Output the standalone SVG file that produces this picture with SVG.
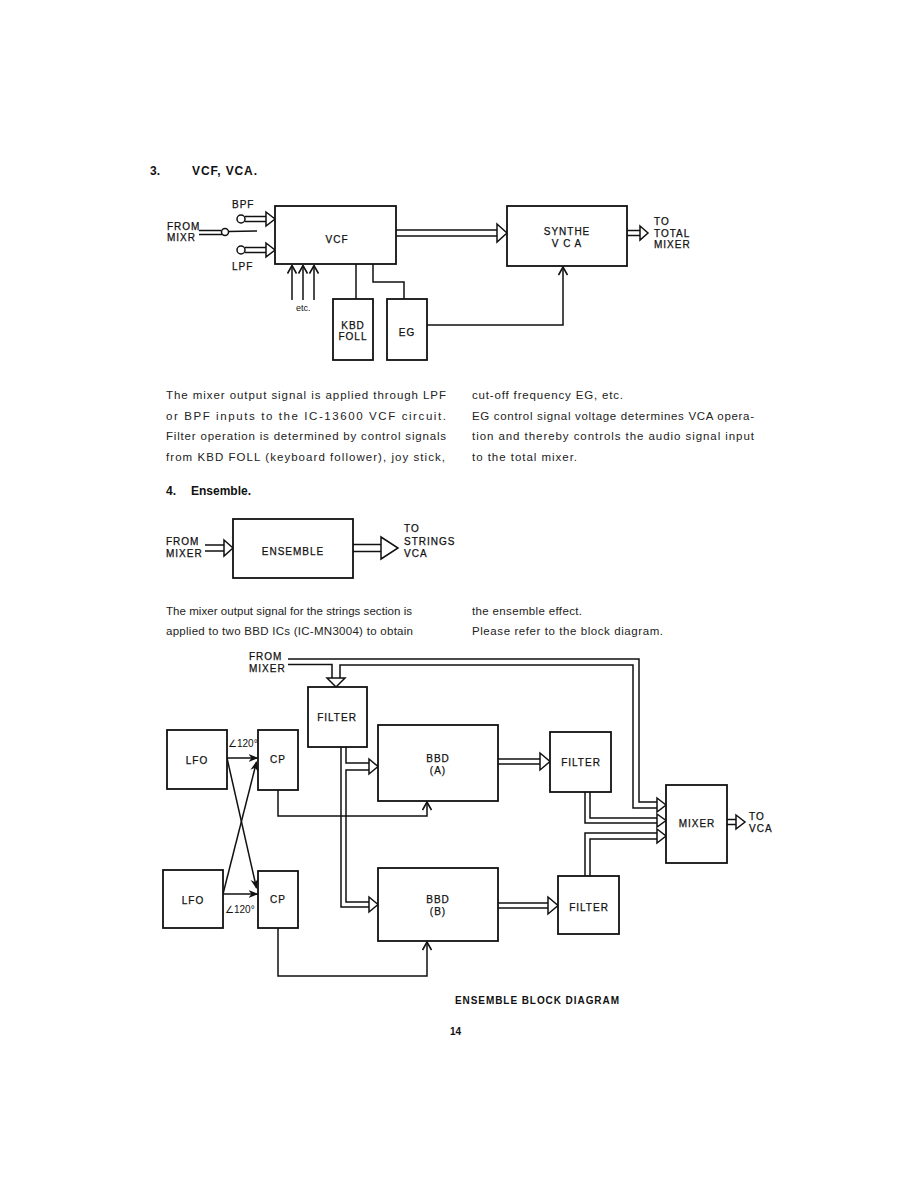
<svg xmlns="http://www.w3.org/2000/svg" width="918" height="1188" viewBox="0 0 918 1188">
<defs>
<style>
.bx{fill:#fff;stroke:#111;stroke-width:1.8}
.ln{fill:none;stroke:#111;stroke-width:1.5}
.dh{fill:#fff;stroke:#111;stroke-width:1.5;stroke-linejoin:miter}
.lb{font-family:"Liberation Sans",Arial,sans-serif;font-size:10px;letter-spacing:1px;fill:#111;stroke:#111;stroke-width:0.25}
.c{text-anchor:middle}
.tx{font-family:"Liberation Sans",Arial,sans-serif;font-size:11.5px;fill:#222}
.hd{font-family:"Liberation Sans",Arial,sans-serif;font-size:12px;font-weight:bold;fill:#111}
.bd{font-family:"Liberation Sans",Arial,sans-serif;font-size:10px;font-weight:bold;fill:#111}
</style>
<marker id="chev" viewBox="0 0 10 10" refX="9" refY="5" markerWidth="10" markerHeight="10" markerUnits="userSpaceOnUse" orient="auto">
<path d="M1,0.5 L9,5 L1,9.5" fill="none" stroke="#111" stroke-width="1.6"/>
</marker>
<marker id="fa" viewBox="0 0 10 10" refX="9" refY="5" markerWidth="10" markerHeight="10" markerUnits="userSpaceOnUse" orient="auto">
<path d="M0,1 L10,5 L0,9 L3,5 Z" fill="#111"/>
</marker>
</defs>
<rect width="918" height="1188" fill="#fff"/>

<!-- Section 3 heading -->
<text class="hd" x="150" y="175">3.</text>
<text class="hd" x="192" y="175" font-size="12.5" textLength="65">VCF, VCA.</text>

<!-- VCF diagram connectors -->
<g id="vcf-connectors">
<text class="lb" x="167" y="230" letter-spacing="0.5">FROM</text>
<text class="lb" x="167" y="241" letter-spacing="0.5">MIXR</text>
<path class="ln" d="M199,230.5 H221"/>
<path class="ln" d="M199,234.5 H222"/>
<circle cx="225" cy="232" r="3.5" fill="#fff" stroke="#111" stroke-width="1.5"/>
<path class="ln" d="M228.5,231.5 L257,231"/>
<text class="lb" x="232" y="208" letter-spacing="0.5">BPF</text>
<circle cx="241" cy="219" r="4" fill="#fff" stroke="#111" stroke-width="1.5"/>
<path class="ln" d="M245,216.5 H267 M245,221.5 H267"/>
<polygon class="dh" points="266,212 275,219 266,226"/>
<text class="lb" x="232" y="270" letter-spacing="0.5">LPF</text>
<circle cx="241" cy="250" r="4" fill="#fff" stroke="#111" stroke-width="1.5"/>
<path class="ln" d="M245,247.5 H267 M245,252.5 H267"/>
<polygon class="dh" points="266,243 275,250 266,257"/>
<path class="ln" d="M292,300 V265.5" marker-end="url(#chev)"/>
<path class="ln" d="M303,300 V265.5" marker-end="url(#chev)"/>
<path class="ln" d="M314,300 V265.5" marker-end="url(#chev)"/>
<text x="296" y="311" font-family="Liberation Sans, Arial, sans-serif" font-size="9" fill="#111">etc.</text>
<path class="ln" d="M356,264 V299"/>
<path class="ln" d="M373,264 V282 H404 V299"/>
<path class="ln" d="M427,325 H563 V267" marker-end="url(#chev)"/>
<path class="ln" d="M396,230 H498 M396,236 H498"/>
<polygon class="dh" points="497,224 507,233 497,242"/>
<path class="ln" d="M627,230.5 H641 M627,235.5 H641"/>
<polygon class="dh" points="640,226 648,233 640,240"/>
<text class="lb" x="654" y="225">TO</text>
<text class="lb" x="654" y="237">TOTAL</text>
<text class="lb" x="654" y="248">MIXER</text>
</g>

<g id="vcf"><rect class="bx" x="275" y="206" width="121" height="58"/><text class="lb c" x="337" y="243">VCF</text></g>
<g id="synthe-vca"><rect class="bx" x="507" y="206" width="120" height="60"/><text class="lb c" x="567" y="235">SYNTHE</text><text class="lb c" x="567" y="247" letter-spacing="3">V C A</text></g>
<g id="kbd-foll"><rect class="bx" x="333" y="299" width="40" height="61"/><text class="lb c" x="353" y="329">KBD</text><text class="lb c" x="353" y="340">FOLL</text></g>
<g id="eg"><rect class="bx" x="387" y="299" width="40" height="61"/><text class="lb c" x="407" y="336">EG</text></g>

<!-- Paragraph 1 -->
<text class="tx" x="166" y="399" textLength="280" lengthAdjust="spacing">The mixer output signal is applied through LPF</text>
<text class="tx" x="166" y="420" textLength="280" lengthAdjust="spacing">or BPF inputs to the IC-13600 VCF circuit.</text>
<text class="tx" x="166" y="440" textLength="280" lengthAdjust="spacing">Filter operation is determined by control signals</text>
<text class="tx" x="166" y="461" textLength="279" lengthAdjust="spacing">from KBD FOLL (keyboard follower), joy stick,</text>
<text class="tx" x="472" y="399" textLength="151" lengthAdjust="spacing">cut-off frequency EG, etc.</text>
<text class="tx" x="472" y="420" textLength="282" lengthAdjust="spacing">EG control signal voltage determines VCA opera-</text>
<text class="tx" x="472" y="440" textLength="282" lengthAdjust="spacing">tion and thereby controls the audio signal input</text>
<text class="tx" x="472" y="461" textLength="105" lengthAdjust="spacing">to the total mixer.</text>

<!-- Section 4 heading -->
<text class="hd" x="166" y="495">4.</text>
<text class="hd" x="191" y="495" font-size="10.5">Ensemble.</text>

<!-- Ensemble small diagram -->
<g id="ensemble-connectors">
<text class="lb" x="166" y="545" letter-spacing="0.5">FROM</text>
<text class="lb" x="166" y="557" letter-spacing="0.5">MIXER</text>
<path class="ln" d="M205,545 H225 M205,551 H225"/>
<polygon class="dh" points="224,540 233,548 224,556"/>
<path class="ln" d="M353,544.5 H382 M353,551.5 H382"/>
<polygon class="dh" points="381,537 398,548 381,559"/>
<text class="lb" x="404" y="532">TO</text>
<text class="lb" x="404" y="545">STRINGS</text>
<text class="lb" x="404" y="557">VCA</text>
</g>
<g id="ensemble"><rect class="bx" x="233" y="519" width="120" height="59"/><text class="lb c" x="293" y="555">ENSEMBLE</text></g>

<!-- Paragraph 2 -->
<text class="tx" x="166" y="615" textLength="246" lengthAdjust="spacing">The mixer output signal for the strings section is</text>
<text class="tx" x="166" y="635" textLength="247" lengthAdjust="spacing">applied to two BBD ICs (IC-MN3004) to obtain</text>
<text class="tx" x="472" y="615" textLength="110" lengthAdjust="spacing">the ensemble effect.</text>
<text class="tx" x="472" y="635" textLength="191" lengthAdjust="spacing">Please refer to the block diagram.</text>

<!-- Ensemble block diagram connectors -->
<g id="block-connectors">
<text class="lb" x="249" y="660" letter-spacing="0.5">FROM</text>
<text class="lb" x="249" y="672" letter-spacing="0.5">MIXER</text>
<path class="ln" d="M288,659 H639 V802 H658"/>
<path class="ln" d="M288,664.5 H332 V679"/>
<path class="ln" d="M340,679 V665 H633 V808 H658"/>
<polygon class="dh" points="327,678 345,678 336,687"/>
<path class="ln" d="M346,747 V763 H370"/>
<path class="ln" d="M370,770 H346 V902 H370"/>
<path class="ln" d="M341,747 V907 H370"/>
<polygon class="dh" points="369,759 378,766.5 369,774"/>
<polygon class="dh" points="369,897 378,904.5 369,912"/>
<path class="ln" d="M498,759 H541 M498,764 H541"/>
<polygon class="dh" points="540,753 550,761.5 540,770"/>
<path class="ln" d="M498,903 H549 M498,908 H549"/>
<polygon class="dh" points="548,897 558,905.5 548,914"/>
<path class="ln" d="M590,792 V818 H658"/>
<path class="ln" d="M585,792 V823 H658"/>
<path class="ln" d="M585,876 V833 H658"/>
<path class="ln" d="M590,876 V839 H658"/>
<polygon class="dh" points="657,798 666,805 657,812"/>
<polygon class="dh" points="657,814 666,820.5 657,827"/>
<polygon class="dh" points="657,829 666,836 657,843"/>
<path class="ln" d="M727,819.5 H737 M727,824.5 H737"/>
<polygon class="dh" points="736,815 745,822 736,829"/>
<text class="lb" x="749" y="820">TO</text>
<text class="lb" x="749" y="832">VCA</text>
<path class="ln" d="M227,758 H257.5" marker-end="url(#fa)"/>
<path class="ln" d="M227,758 L256.5,888" marker-end="url(#fa)"/>
<path class="ln" d="M223,894 H257.5" marker-end="url(#fa)"/>
<path class="ln" d="M223,894 L256.5,762" marker-end="url(#fa)"/>
<text x="228" y="747" font-family="Liberation Sans, Arial, sans-serif" font-size="10" fill="#111">∠120°</text>
<text x="225" y="913" font-family="Liberation Sans, Arial, sans-serif" font-size="10" fill="#111">∠120°</text>
<path class="ln" d="M278,790 V816 H427 V802" marker-end="url(#chev)"/>
<path class="ln" d="M278,928 V976 H427 V942" marker-end="url(#chev)"/>
</g>

<g id="filter-in"><rect class="bx" x="308" y="687" width="59" height="60"/><text class="lb c" x="337" y="721">FILTER</text></g>
<g id="lfo-1"><rect class="bx" x="167" y="730" width="60" height="59"/><text class="lb c" x="197" y="764">LFO</text></g>
<g id="cp-1"><rect class="bx" x="258" y="730" width="40" height="60"/><text class="lb c" x="278" y="763">CP</text></g>
<g id="bbd-a"><rect class="bx" x="378" y="725" width="120" height="76"/><text class="lb c" x="438" y="762">BBD</text><text class="lb c" x="438" y="774">(A)</text></g>
<g id="filter-a"><rect class="bx" x="550" y="732" width="61" height="60"/><text class="lb c" x="581" y="766">FILTER</text></g>
<g id="lfo-2"><rect class="bx" x="163" y="870" width="60" height="58"/><text class="lb c" x="193" y="904">LFO</text></g>
<g id="cp-2"><rect class="bx" x="258" y="871" width="40" height="57"/><text class="lb c" x="278" y="903">CP</text></g>
<g id="bbd-b"><rect class="bx" x="378" y="868" width="120" height="73"/><text class="lb c" x="438" y="903">BBD</text><text class="lb c" x="438" y="915">(B)</text></g>
<g id="filter-b"><rect class="bx" x="558" y="876" width="61" height="58"/><text class="lb c" x="589" y="911">FILTER</text></g>
<g id="mixer"><rect class="bx" x="666" y="785" width="61" height="78"/><text class="lb c" x="697" y="827">MIXER</text></g>

<text class="bd" x="455" y="1004" textLength="164" lengthAdjust="spacing">ENSEMBLE BLOCK DIAGRAM</text>
<text class="bd" x="450" y="1035">14</text>
</svg>
